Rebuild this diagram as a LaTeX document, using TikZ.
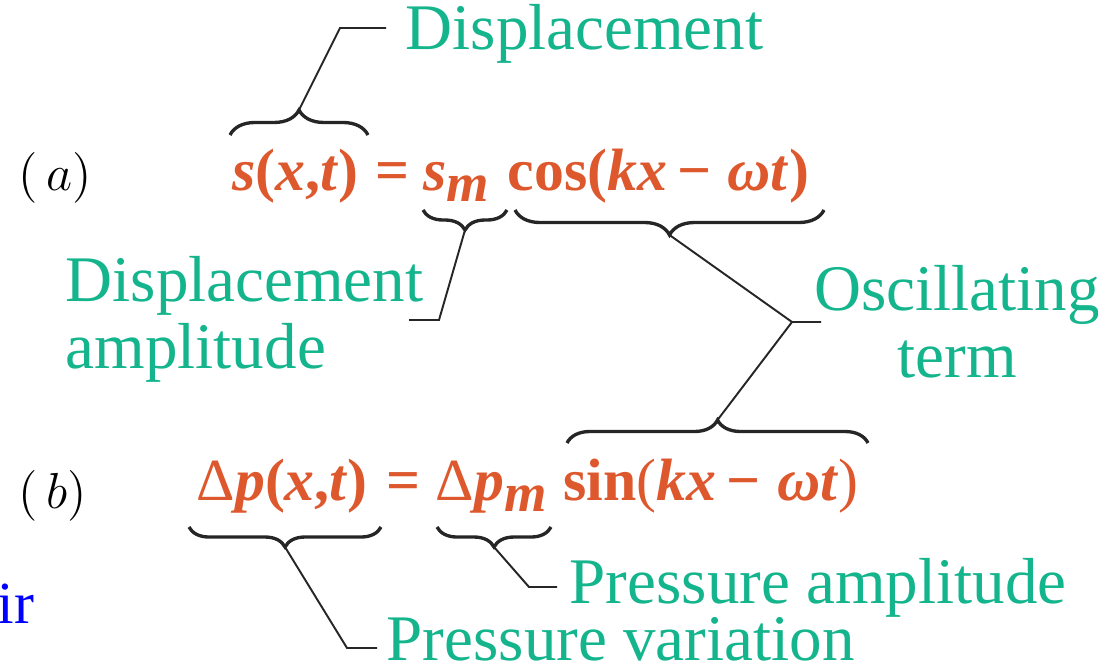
\documentclass[tikz,border=0pt]{standalone}
\usepackage{fontspec}
\setmainfont{Liberation Serif}
\usepackage{xcolor}
\usetikzlibrary{decorations.pathreplacing, calc}

\definecolor{labelgreen}{RGB}{20,180,140}
\definecolor{eqorange}{RGB}{222,88,46}
\newcommand{\bi}[1]{\textbf{\textit{#1}}}
\newcommand{\subm}{\raisebox{-0.11cm}{\fontsize{15.5}{16}\selectfont\bi{m}}}

\begin{document}
\begin{tikzpicture}[x=0.01cm, y=-0.01cm,
    lbl/.style={anchor=base west, inner sep=0pt, text=labelgreen, font=\fontsize{18.5}{18.8}\selectfont},
    eq/.style={anchor=base west, inner sep=0pt, text=eqorange, font=\fontsize{17}{20}\selectfont\bfseries},
    part/.style={anchor=base west, inner sep=0pt, font=\fontsize{14}{16}\selectfont},
    brc/.style={decorate, decoration={brace, amplitude=#1}, line width=0.95pt, draw=black!85},
    lead/.style={line width=0.55pt, draw=black!85}]
    \useasboundingbox (0,0) rectangle (1098,670);

    % labels (multi-line ones sit on their last line)
    \node [lbl] (dispTop) at (405,50) {Displacement};
    \node [lbl, align=left] (dispAmp) at (65,368) {Displacement\\amplitude};
    \node [lbl, align=center, anchor=base] (osc) at (957,377) {Oscillating\\term};
    \node [lbl] (presAmp) at (569,603) {Pressure amplitude};
    \node [lbl] (presVar) at (386,660) {Pressure variation};

    \node [part] (partA) at (18,190) {$(\,a)$};
    \node [part] (partB) at (18,508) {$(\,b)$};
    \node [anchor=base west, inner sep=0pt, text=blue, font=\fontsize{17}{18}\selectfont] (airTxt) at (-3,623) {ir};

    % equations
    \node [eq] (sxt) at (232,190) {\bi{s}(\bi{x},\bi{t})};
    \node [eq] (eqa) at (375,190) {=};
    \node [eq] (sm) at (423,190) {\bi{s}\subm};
    \node [eq] (cosa) at (507,190) {cos(\bi{kx}\,−\;\bi{ωt})};

    \node [eq] (dpxt) at (196,500) {{\mdseries Δ}\bi{p}(\bi{x},\bi{t})};
    \node [eq] (eqb) at (386,500) {=};
    \node [eq] (dpm) at (435,500) {{\mdseries Δ}\bi{p}\subm};
    \node [eq] (sinb) at (563,500) {sin{\mdseries(}\bi{kx}\,−\;\bi{ωt}{\mdseries)}};

    % braces
    \coordinate (sxtL) at (230,135);  \coordinate (sxtR) at (368,135);
    \coordinate (smL) at (423,210);   \coordinate (smR) at (507,210);
    \coordinate (cosL) at (515,210);  \coordinate (cosR) at (824,210);
    \coordinate (sinL) at (567,443);  \coordinate (sinR) at (868,443);
    \coordinate (dpL) at (189,527);   \coordinate (dpR) at (381,527);
    \coordinate (dpmL) at (437,527);  \coordinate (dpmR) at (551,527);
    \draw [brc=0.25cm] (sxtL) -- (sxtR);
    \draw [brc=0.2cm] (smR) -- (smL);
    \draw [brc=0.25cm] (cosR) -- (cosL);
    \draw [brc=0.23cm] (sinL) -- (sinR);
    \draw [brc=0.2cm] (dpR) -- (dpL);
    \draw [brc=0.2cm] (dpmR) -- (dpmL);
    \coordinate (sxtTip) at ($(sxtL)!0.5!(sxtR)+(0,-25)$);
    \coordinate (smTip) at ($(smL)!0.5!(smR)+(0,20)$);
    \coordinate (cosTip) at ($(cosL)!0.5!(cosR)+(0,25)$);
    \coordinate (sinTip) at ($(sinL)!0.5!(sinR)+(0,-23)$);
    \coordinate (dpTip) at ($(dpL)!0.5!(dpR)+(0,20)$);
    \coordinate (dpmTip) at ($(dpmL)!0.5!(dpmR)+(0,20)$);

    % leaders
    \coordinate (dispKnee) at (340,28);  \coordinate (dispEnd) at (386,28);
    \coordinate (ampKnee) at (439,320);  \coordinate (ampEnd) at (409,320);
    \coordinate (oscKnee) at (792,322);  \coordinate (oscEnd) at (821,322);
    \coordinate (varKnee) at (347,648);  \coordinate (varEnd) at (377,648);
    \coordinate (pampKnee) at (529,587); \coordinate (pampEnd) at (557,587);
    \draw [lead] (sxtTip) -- (dispKnee) -- (dispEnd);
    \draw [lead] (smTip) -- (ampKnee) -- (ampEnd);
    \draw [lead] (cosTip) -- (oscKnee) -- (oscEnd);
    \draw [lead] (sinTip) -- (oscKnee);
    \draw [lead] (dpTip) -- (varKnee) -- (varEnd);
    \draw [lead] (dpmTip) -- (pampKnee) -- (pampEnd);
\end{tikzpicture}
\end{document}
